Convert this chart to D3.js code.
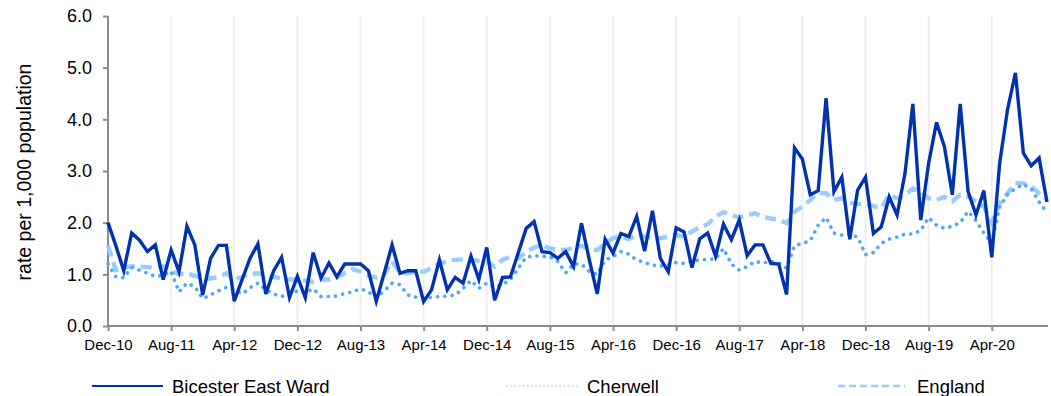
<!DOCTYPE html>
<html><head><meta charset="utf-8">
<script src="https://cdn.jsdelivr.net/npm/d3@7"></script>
<style>body{margin:0;background:#fff}svg{display:block;font-family:"Liberation Sans",Arial,sans-serif}</style>
</head><body><svg id="c" width="1051" height="396"></svg>
<script>
const seriesNames = ["Bicester East Ward","Cherwell","England"];
const bicester = [2.0,1.55,1.07,1.8,1.66,1.44,1.57,0.9,1.47,1.05,1.93,1.57,0.6,1.31,1.56,1.56,0.48,0.9,1.31,1.59,
0.62,1.07,1.33,0.55,0.96,0.55,1.42,0.93,1.22,0.95,1.2,1.2,1.2,1.07,0.48,1.02,1.57,1.02,1.07,1.07,
0.47,0.7,1.28,0.7,0.94,0.83,1.35,0.9,1.52,0.5,0.94,0.95,1.42,1.89,2.02,1.44,1.42,1.31,1.44,1.15,
1.99,1.28,0.62,1.68,1.41,1.79,1.73,2.12,1.45,2.23,1.31,1.05,1.9,1.82,1.13,1.69,1.8,1.35,1.97,1.67,
2.05,1.36,1.57,1.57,1.21,1.2,0.61,3.45,3.23,2.54,2.62,4.41,2.6,2.88,1.68,2.63,2.88,1.79,1.92,2.5,
2.15,2.95,4.3,2.05,3.15,3.94,3.47,2.54,4.3,2.6,2.15,2.62,1.33,3.15,4.19,4.9,3.35,3.1,3.25,2.4];
const cherwell = [1.2,0.95,0.93,1.13,1.08,1.02,0.96,0.98,1.06,0.66,0.83,0.76,0.53,0.6,0.68,0.75,0.7,0.62,0.74,0.83,
0.7,0.62,0.57,0.62,0.68,0.64,0.72,0.57,0.57,0.58,0.63,0.66,0.72,0.66,0.55,0.68,0.83,0.8,0.6,0.56,
0.55,0.55,0.57,0.58,0.6,0.73,0.88,0.73,0.83,0.76,0.8,0.9,1.12,1.33,1.36,1.35,1.34,1.25,1.03,1.2,
1.2,1.05,1.0,1.28,1.34,1.44,1.39,1.28,1.23,1.18,1.16,1.18,1.23,1.21,1.25,1.28,1.29,1.3,1.5,1.2,
1.08,1.15,1.25,1.22,1.25,1.22,1.12,1.55,1.6,1.65,1.95,2.1,1.8,1.76,1.78,1.72,1.38,1.42,1.6,1.68,
1.72,1.78,1.78,1.85,2.1,1.95,1.89,1.93,2.0,2.22,2.04,1.8,1.6,2.3,2.55,2.66,2.74,2.66,2.4,2.2];
const england = [1.55,1.08,1.12,1.16,1.15,1.14,1.13,1.16,1.07,1.0,1.02,0.97,0.92,0.92,0.95,1.02,0.9,0.95,1.01,1.02,
0.98,0.95,0.92,0.9,0.9,0.88,0.85,0.9,0.9,0.94,1.02,1.1,1.05,0.97,0.94,0.99,1.25,1.03,1.02,1.05,
1.05,1.12,1.21,1.25,1.28,1.29,1.28,1.26,1.25,1.15,1.28,1.34,1.31,1.44,1.52,1.57,1.5,1.47,1.47,1.52,
1.55,1.5,1.47,1.6,1.7,1.73,1.68,1.76,1.73,1.72,1.7,1.73,1.76,1.73,1.83,1.91,1.97,2.12,2.2,2.15,
2.1,2.15,2.18,2.12,2.08,2.06,1.99,2.21,2.31,2.44,2.57,2.57,2.44,2.47,2.39,2.36,2.36,2.32,2.28,2.54,
2.47,2.54,2.66,2.6,2.47,2.44,2.5,2.41,2.54,2.5,2.41,2.31,2.0,2.37,2.57,2.77,2.76,2.7,2.57,2.44];
const yTicks = [0,1,2,3,4,5,6];
const tickEvery = 8;

const fmt = d3.timeFormat("%b-%y");
const months = d3.timeMonths(new Date(2010,11,1), new Date(2020,11,1)).map(fmt);

const svg = d3.select("#c");
const L = 108, R = 1047, T = 16, B = 326;
const x = d3.scalePoint().domain(months).range([L, R]).padding(0);
const y = d3.scaleLinear().domain([0,6]).range([B, T]);
const tickLabels = months.filter((m,i)=>i%tickEvery===0);

// gridlines
svg.append("g").selectAll("line").data(tickLabels.slice(1)).join("line")
  .attr("x1",d=>x(d)).attr("x2",d=>x(d)).attr("y1",T).attr("y2",B)
  .attr("stroke","#efefef").attr("stroke-width",2);

// x axis
const gx = svg.append("g").attr("transform",`translate(0,${B})`)
  .call(d3.axisBottom(x).tickValues(tickLabels).tickSize(5).tickPadding(8));
gx.select(".domain").attr("stroke","#8c8c8c").attr("stroke-width",2).attr("d",`M${L},0H${R+1}`);
gx.selectAll(".tick line").attr("stroke","#8c8c8c").attr("stroke-width",2);
gx.selectAll("text").attr("font-size",15).attr("fill","#000").attr("font-family","Liberation Sans, Arial, sans-serif");

// y axis
const gy = svg.append("g").attr("transform",`translate(${L},0)`)
  .call(d3.axisLeft(y).tickValues(yTicks).tickFormat(d3.format(".1f")).tickSize(5).tickPadding(11));
gy.select(".domain").attr("stroke","#8c8c8c").attr("stroke-width",2).attr("d",`M0,${T}V${B}`);
gy.selectAll(".tick line").attr("stroke","#8c8c8c").attr("stroke-width",2);
gy.selectAll("text").attr("font-size",18).attr("fill","#000").attr("font-family","Liberation Sans, Arial, sans-serif");

svg.append("text").attr("transform",`translate(31,${(T+B)/2+1}) rotate(-90)`)
  .attr("text-anchor","middle").attr("font-size",19.5).text("rate per 1,000 population");

const line = d3.line().x((d,i)=>x(months[i])).y(d=>y(d));
const styles = [
  {data:bicester, color:"#0033b0", w:3.4, dash:null, cap:"butt"},
  {data:cherwell, color:"#4da6ff", w:3.6, dash:"0.1 7.2", cap:"round"},
  {data:england, color:"#99ccff", w:4.4, dash:"11 6", cap:"butt"}
];
[2,1,0].forEach(k=>{
  const s = styles[k];
  svg.append("path").datum(s.data).attr("d",line).attr("fill","none")
    .attr("stroke",s.color).attr("stroke-width",s.w).attr("stroke-linejoin","miter")
    .attr("stroke-linecap",s.cap).attr("stroke-dasharray",s.dash);
});

// legend
const legX = [92, 507, 838];
const legStyles = [
  {color:"#0033b0", w:2.2, dash:null, cap:"butt"},
  {color:"#c6e2ff", w:2, dash:"0.1 4", cap:"round"},
  {color:"#99ccff", w:2.5, dash:"7 4", cap:"butt"}
];
const lg = svg.append("g").selectAll("g").data(seriesNames).join("g")
  .attr("transform",(d,i)=>`translate(${legX[i]},386)`);
lg.append("line").attr("x1",0).attr("x2",(d,i)=>i===2?67:71).attr("y1",0).attr("y2",0)
  .attr("stroke",(d,i)=>legStyles[i].color).attr("stroke-width",(d,i)=>legStyles[i].w)
  .attr("stroke-dasharray",(d,i)=>legStyles[i].dash).attr("stroke-linecap",(d,i)=>legStyles[i].cap);
lg.append("text").attr("x",(d,i)=>i===2?79:80).attr("y",6.5).attr("font-size",18.5).text(d=>d);
</script></body></html>
